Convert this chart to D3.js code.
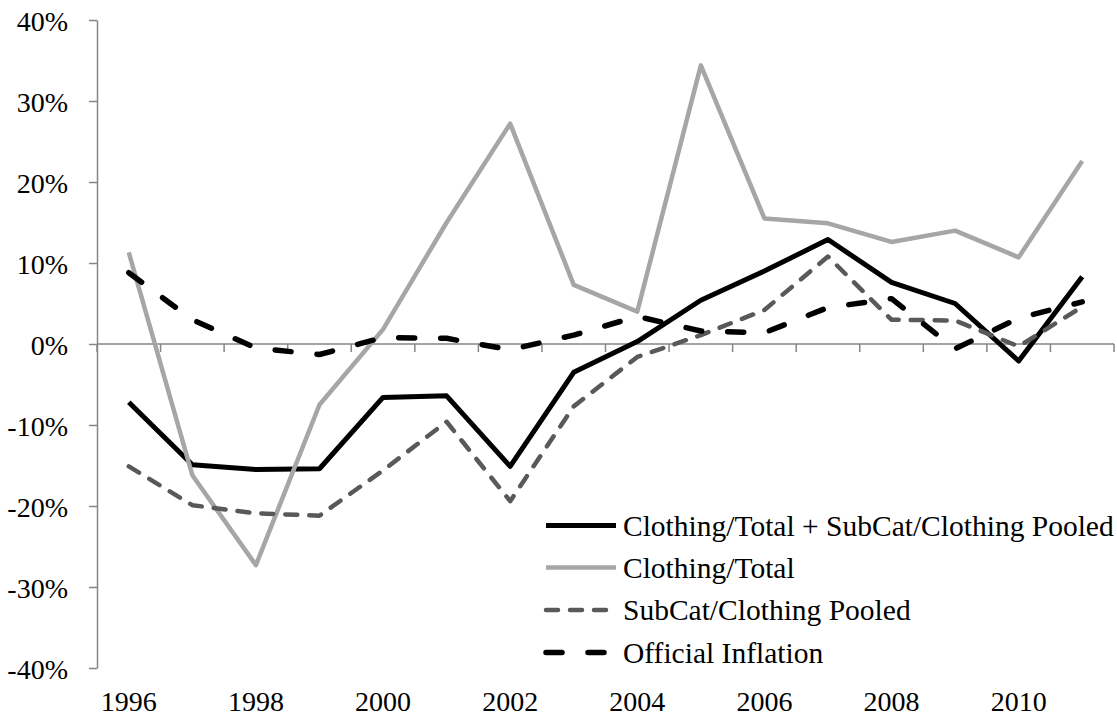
<!DOCTYPE html>
<html>
<head>
<meta charset="utf-8">
<script src="https://cdn.jsdelivr.net/npm/d3@7"></script>
<style>
  html, body { margin: 0; padding: 0; background: #fff; }
  svg { display: block; }
  text { font-family: "Liberation Serif", "Times New Roman", serif; fill: #000; }
</style>
</head>
<body>
<svg id="chart" width="1117" height="717"></svg>
<script>
const years = ["1996","1997","1998","1999","2000","2001","2002","2003","2004","2005","2006","2007","2008","2009","2010","2011"];
const xTickLabels = ["1996","1998","2000","2002","2004","2006","2008","2010"];
const yTickValues = [-40, -30, -20, -10, 0, 10, 20, 30, 40];
const pooled = [-7.2, -14.9, -15.5, -15.4, -6.6, -6.4, -15.1, -3.5, 0.3, 5.4, 9.0, 12.9, 7.6, 5.0, -2.1, 8.3];
const clothingTotal = [11.3, -16.2, -27.3, -7.5, 1.8, 15.0, 27.2, 7.3, 4.0, 34.4, 15.5, 14.9, 12.6, 14.0, 10.7, 22.6];
const subCatPooled = [-15.1, -19.9, -20.9, -21.2, -15.6, -9.6, -19.4, -7.7, -1.6, 1.1, 4.2, 10.8, 3.0, 2.9, -0.3, 4.6];
const officialInflation = [8.8, 3.0, -0.5, -1.3, 0.8, 0.7, -0.7, 1.1, 3.4, 1.6, 1.4, 4.5, 5.6, -0.6, 3.2, 5.2];
const seriesNames = ["Clothing/Total + SubCat/Clothing Pooled", "Clothing/Total", "SubCat/Clothing Pooled", "Official Inflation"];

const series = [
  { name: seriesNames[0], values: pooled, color: "#000000", width: 5, dash: null },
  { name: seriesNames[1], values: clothingTotal, color: "#a6a6a6", width: 4.5, dash: null },
  { name: seriesNames[2], values: subCatPooled, color: "#595959", width: 4.5, dash: "12,12" },
  { name: seriesNames[3], values: officialInflation, color: "#000000", width: 5.5, dash: "16,26" }
];

const svg = d3.select("#chart");
const plotLeft = 97, plotRight = 1114, plotTop = 20, plotBottom = 668;
const fontSize = 28;
const legendFontSize = 29.5;
const axisColor = "#868686";

const x = d3.scaleBand().domain(years).range([plotLeft, plotRight]).padding(0);
const y = d3.scaleLinear().domain([-40, 40]).range([plotBottom, plotTop]);
const cx = d => x(d) + x.bandwidth() / 2;

// Y axis
const yAxis = d3.axisLeft(y).tickValues(yTickValues).tickFormat(d => d + "%").tickSize(8).tickSizeOuter(0).tickPadding(21);
const gy = svg.append("g").attr("transform", `translate(${plotLeft},0)`).call(yAxis);
gy.select(".domain").attr("stroke", axisColor).attr("stroke-width", 1.5);
gy.selectAll(".tick line").attr("stroke", axisColor).attr("stroke-width", 1.5);
gy.selectAll(".tick text").attr("font-size", fontSize).attr("font-family", "Liberation Serif").attr("fill", "#000").attr("dy", "0.36em");

// X axis at zero line, ticks between categories
const y0 = y(0);
const boundaries = years.map(d => x(d)).concat([x.range()[1]]);
const gx = svg.append("g");
gx.append("line").attr("x1", plotLeft).attr("x2", plotRight).attr("y1", y0).attr("y2", y0)
  .attr("stroke", axisColor).attr("stroke-width", 1.5);
gx.selectAll("line.tk").data(boundaries).enter().append("line").attr("class", "tk")
  .attr("x1", d => d).attr("x2", d => d).attr("y1", y0).attr("y2", y0 + 8)
  .attr("stroke", axisColor).attr("stroke-width", 1.5);

// X labels at bottom
svg.append("g").selectAll("text").data(xTickLabels).enter().append("text")
  .attr("x", d => cx(d)).attr("y", 711).attr("text-anchor", "middle")
  .attr("font-size", fontSize).text(d => d);

// Lines
const line = d3.line().x((d, i) => cx(years[i])).y(d => y(d));
series.forEach(s => {
  const p = svg.append("path").datum(s.values).attr("d", line)
    .attr("fill", "none").attr("stroke", s.color).attr("stroke-width", s.width)
    .attr("stroke-linejoin", "round").attr("stroke-linecap", s.dash ? "round" : "butt");
  if (s.dash) p.attr("stroke-dasharray", s.dash);
});

// Legend
const legendY = [525.5, 567.5, 610, 652.5];
const lg = svg.append("g");
series.forEach((s, i) => {
  const ly = legendY[i];
  const l = lg.append("line").attr("x1", 546).attr("x2", 616).attr("y1", ly).attr("y2", ly)
    .attr("stroke", s.color).attr("stroke-width", s.width)
    .attr("stroke-linecap", s.dash ? "round" : "butt");
  if (s.dash) l.attr("stroke-dasharray", s.dash);
  lg.append("text").attr("x", 623).attr("y", ly).attr("dy", "0.35em")
    .attr("font-size", legendFontSize).text(s.name);
});
</script>
</body>
</html>
